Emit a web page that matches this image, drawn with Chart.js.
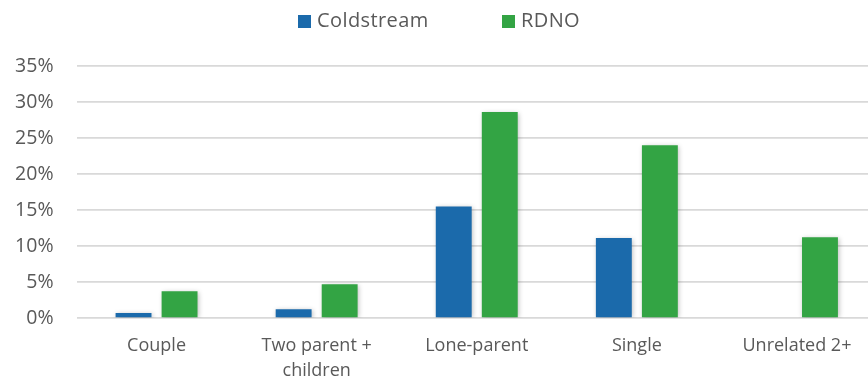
<!DOCTYPE html>
<html lang="en">
<head>
  <meta charset="UTF-8" />
  <title>Household types</title>
  <script src="https://cdn.jsdelivr.net/npm/chart.js"></script>
  <style>
    html, body {
      margin: 0;
      padding: 0;
      background: #fff;
      overflow: hidden;
      font-family: 'Open Sans', sans-serif;
    }
    .wrap {
      position: relative;
      width: 877px;
      height: 381px;
    }
    .leyenda {
      position: absolute;
      top: 5px;
      left: 0;
      width: 100%;
      height: 30px;
      font-size: 20px;
      letter-spacing: 0.4px;
      color: #595959;
    }
    .leyenda span.item {
      position: absolute;
      top: 0;
      line-height: 30px;
      white-space: nowrap;
    }
    .leyenda i {
      display: inline-block;
      width: 13px;
      height: 13px;
      margin-right: 6px;
      vertical-align: -1px;
    }
  </style>
</head>
<body>
  <div class="wrap">
    <div class="leyenda" id="leyenda"></div>
    <canvas id="grafico"></canvas>
  </div>

  <script>
    const categorias = ["Couple", ["Two parent +", "children"], "Lone-parent", "Single", "Unrelated 2+"];
    const coldstream = [0.7, 1.2, 15.5, 11.1, 0];
    const rdno = [3.7, 4.7, 28.6, 24.0, 11.2];
    const series = ["Coldstream", "RDNO"];
    const colores = ["#1B6AAB", "#33A444"];
    const posLeyenda = [298, 502];

    // leyenda en html
    const leyenda = document.getElementById("leyenda");
    series.forEach((nombre, i) => {
      const item = document.createElement("span");
      item.className = "item";
      item.style.left = posLeyenda[i] + "px";
      item.innerHTML = `<i style="background:${colores[i]}"></i>${nombre}`;
      leyenda.appendChild(item);
    });

    const sombra = {
      id: 'sombraBarras',
      beforeDatasetsDraw(chart) {
        const ctx = chart.ctx;
        ctx.save();
        ctx.shadowColor = 'rgba(0,0,0,0.28)';
        ctx.shadowBlur = 5;
        ctx.shadowOffsetX = 1;
        ctx.shadowOffsetY = 1;
      },
      afterDatasetsDraw(chart) {
        chart.ctx.restore();
      }
    };

    const fuente = { family: "'Open Sans', sans-serif", size: 18 };

    new Chart(document.getElementById("grafico"), {
      type: "bar",
      data: {
        labels: categorias,
        datasets: [
          { label: series[0], data: coldstream, backgroundColor: colores[0] },
          { label: series[1], data: rdno, backgroundColor: colores[1] }
        ]
      },
      options: {
        responsive: true,
        maintainAspectRatio: false,
        animation: false,
        layout: { padding: { top: 66, left: 0, right: 0, bottom: 0 } },
        datasets: {
          bar: { categoryPercentage: 0.575, barPercentage: 0.78 }
        },
        scales: {
          x: {
            grid: { display: false },
            border: { display: false },
            ticks: {
              color: "#595959",
              font: { ...fuente, lineHeight: 1.35 },
              padding: 8,
              maxRotation: 0,
              autoSkip: false
            },
            afterFit(scale) { scale.height = 63; }
          },
          y: {
            min: 0,
            max: 35,
            grid: { color: "#d9d9d9", lineWidth: 1.7, drawTicks: false },
            border: { display: false },
            ticks: {
              stepSize: 5,
              color: "#595959",
              font: { ...fuente, size: 19.5 },
              padding: 23,
              callback: v => v + "%"
            },
            afterFit(scale) { scale.width = 76.5; }
          }
        },
        plugins: {
          legend: { display: false },
          tooltip: {
            callbacks: {
              label: c => `${c.dataset.label}: ${c.raw}%`
            }
          }
        }
      },
      plugins: [sombra]
    });
  </script>
</body>
</html>
